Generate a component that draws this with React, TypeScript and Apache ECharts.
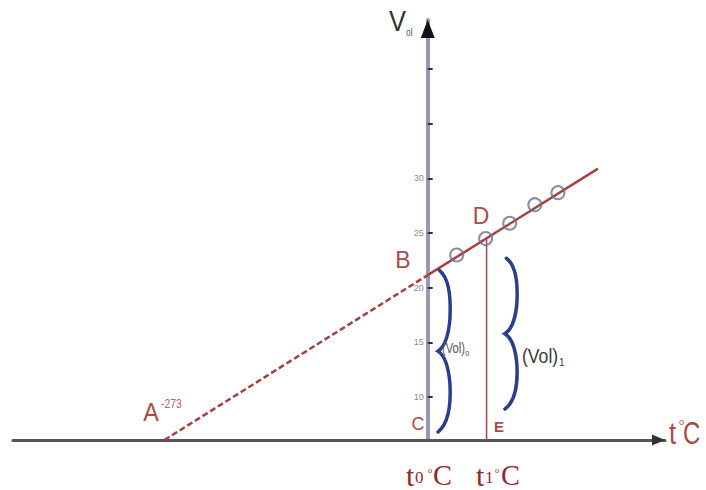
import React, { useEffect, useRef } from "react";
import * as echarts from "echarts";

// axis extents (temperature in °C, volume in arbitrary units)
const X_MIN = -430;
const X_MAX = 246;
const Y_MIN = 6.07;
const Y_MAX = 44.5;

// Charles's law line
const absZeroT = -273;
const absZeroV = 6.07;
const bT = 0;
const bV = 21.16;
const endT = 176.5;
const endV = 30.9;

// measured points (circles)
const measuredT = [30, 60, 85, 111, 135];
const measuredV = [23.0, 24.5, 25.9, 27.6, 28.7];

// t1 drop line
const t1 = 61;
const dVol = 24.5;

// y ticks
const yTickValues = [10, 15, 20, 25, 30, 35, 40];
const yLabelValues = [10, 15, 20, 25, 30];

// braces: [xLeft, xRight, yTop, yBottom]
const braceLeft = [10.6, 80];
const braceRight = [25.2, 94.6];
const braceTop = [21.6, 22.7];
const braceBottom = [6.8, 8.9];

const RED = "#a8403e";
const TXT_RED = "#ad4a48";

const GRID_LEFT = 13;
const GRID_RIGHT = 41;
const CHART_W = 706;

export default function App() {
  const ref = useRef<HTMLDivElement>(null);
  useEffect(() => {
    if (!ref.current) return;
    const chart = echarts.init(ref.current, null, { renderer: "svg" });

    const txt = (
      x: number,
      y: number,
      text: string,
      font: string,
      fill: string,
      opts: any = {}
    ) => ({
      type: "text",
      x,
      y,
      scaleX: opts.scaleX ?? 1,
      z: 100,
      style: {
        text,
        font,
        fill,
        textAlign: opts.align ?? "left",
        textVerticalAlign: "middle",
      },
    });

    const sans = "'Liberation Sans', Arial, sans-serif";
    const serif = "'Liberation Serif', 'Times New Roman', serif";

    // place the y axis at t = 0 using the x axis scale
    const plotW = CHART_W - GRID_LEFT - GRID_RIGHT;
    const zeroOffset = ((0 - X_MIN) / (X_MAX - X_MIN)) * plotW;

    const option: any = {
      animation: false,
      backgroundColor: "#ffffff",
      grid: { left: GRID_LEFT, right: GRID_RIGHT, top: 20, bottom: 50 },
      xAxis: {
        type: "value",
        min: X_MIN,
        max: X_MAX,
        axisLine: { onZero: false, lineStyle: { color: "#555555", width: 3 } },
        axisTick: { show: false },
        axisLabel: { show: false },
        splitLine: { show: false },
      },
      yAxis: {
        type: "value",
        min: Y_MIN,
        max: Y_MAX,
        position: "left",
        offset: -zeroOffset,
        axisLine: { show: true, onZero: false, lineStyle: { color: "#9898b2", width: 4 } },
        axisTick: {
          show: true,
          inside: true,
          length: 5,
          customValues: yTickValues,
          lineStyle: { color: "#2e2e66", width: 2 },
        },
        axisLabel: {
          show: true,
          customValues: yLabelValues,
          fontSize: 9,
          color: "#8a8a8a",
          margin: 4,
          fontFamily: sans,
        },
        splitLine: { show: false },
      },
      series: [
        {
          type: "line",
          data: [
            [absZeroT, absZeroV],
            [bT, bV],
          ],
          symbol: "none",
          lineStyle: { color: RED, width: 2.5, type: [6, 3] },
          z: 3,
        },
        {
          type: "line",
          data: [
            [bT, bV],
            [endT, endV],
          ],
          symbol: "none",
          lineStyle: { color: RED, width: 2.5 },
          z: 3,
        },
        {
          type: "line",
          data: [
            [t1, Y_MIN],
            [t1, dVol],
          ],
          symbol: "none",
          lineStyle: { color: RED, width: 1.5 },
          z: 3,
        },
        {
          type: "scatter",
          data: measuredT.map((t, i) => [t, measuredV[i]]),
          symbol: "circle",
          symbolSize: 13,
          itemStyle: { color: "rgba(0,0,0,0)", borderColor: "#6c7090", borderWidth: 2 },
          z: 4,
        },
        {
          type: "custom",
          clip: false,
          z: 5,
          data: braceLeft.map((l, i) => [l, braceRight[i], braceTop[i], braceBottom[i]]),
          renderItem: (params: any, api: any) => {
            const a = api.coord([api.value(0), api.value(2)]);
            const b = api.coord([api.value(1), api.value(3)]);
            const x0 = a[0];
            const yt = a[1];
            const w = b[0] - a[0];
            const h = b[1] - a[1];
            const p = (fx: number, fy: number) => `${x0 + fx * w},${yt + fy * h}`;
            const d =
              `M${p(0.1, 0)} Q${p(1, 0.06)} ${p(0.85, 0.3)} Q${p(0.7, 0.46)} ${p(0, 0.5)} ` +
              `Q${p(0.7, 0.54)} ${p(0.85, 0.7)} Q${p(1, 0.93)} ${p(0, 1)}`;
            return {
              type: "path",
              shape: { pathData: d },
              style: { stroke: "#2b3e8e", lineWidth: 3.5, fill: "none", lineCap: "round" },
            };
          },
        },
        {
          type: "custom",
          clip: false,
          z: 6,
          data: [
            [X_MAX, Y_MIN, 0],
            [0, Y_MAX, 1],
          ],
          renderItem: (params: any, api: any) => {
            const tip = api.coord([api.value(0), api.value(1)]);
            const dir = api.value(2);
            const pts =
              dir === 0
                ? [tip, [tip[0] - 13, tip[1] - 5.5], [tip[0] - 13, tip[1] + 5.5]]
                : [tip, [tip[0] - 7, tip[1] + 18], [tip[0] + 7, tip[1] + 18]];
            return {
              type: "polygon",
              shape: { points: pts },
              style: { fill: dir === 0 ? "#333333" : "#111111" },
            };
          },
        },
      ],
      graphic: [
        // V_ol
        txt(389, 21, "V", `30px ${sans}`, "#333333", { scaleX: 0.85 }),
        txt(406, 33, "ol", `10px ${sans}`, "#555555", { scaleX: 0.85 }),
        // points
        txt(403, 260, "B", `23px ${sans}`, TXT_RED, { align: "center" }),
        txt(481, 216, "D", `23px ${sans}`, TXT_RED, { align: "center" }),
        txt(418, 424, "C", `18px ${sans}`, TXT_RED, { align: "center" }),
        txt(499, 426, "E", `bold 15px ${sans}`, TXT_RED, { align: "center" }),
        txt(151, 412, "A", `26px ${sans}`, TXT_RED, { align: "center", scaleX: 0.9 }),
        txt(161, 403, "-273", `13px ${sans}`, "#b06262", { scaleX: 0.8 }),
        // t°C axis title
        txt(669, 433, "t", `32px ${sans}`, TXT_RED, { scaleX: 0.8 }),
        txt(679, 422, "o", `9px ${sans}`, TXT_RED),
        txt(683, 433, "C", `32px ${sans}`, TXT_RED, { scaleX: 0.75 }),
        // t0°C
        txt(406, 475, "t", `30px ${serif}`, "#8c2c2c"),
        txt(415, 477, "0", `17px ${serif}`, "#8c2c2c"),
        txt(428, 470, "o", `8px ${serif}`, "#8c2c2c"),
        txt(433, 475, "C", `30px ${serif}`, "#8c2c2c", { scaleX: 0.95 }),
        // t1°C
        txt(476, 475, "t", `30px ${serif}`, "#8c2c2c"),
        txt(485, 477, "1", `17px ${serif}`, "#8c2c2c"),
        txt(495, 470, "o", `8px ${serif}`, "#8c2c2c"),
        txt(501, 475, "C", `30px ${serif}`, "#8c2c2c", { scaleX: 0.95 }),
        // (Vol)0 and (Vol)1
        txt(442, 349, "(Vol)", `14px ${sans}`, "#555555", { scaleX: 0.8 }),
        txt(465, 353, "0", `8px ${sans}`, "#555555"),
        txt(522, 356, "(Vol)", `20px ${sans}`, "#3a3a3a", { scaleX: 0.88 }),
        txt(559, 362, "1", `10px ${sans}`, "#3a3a3a"),
      ],
    };
    chart.setOption(option);
    return () => chart.dispose();
  }, []);
  return (
    <div
      ref={ref}
      style={{ position: "fixed", left: 0, top: 0, width: 706, height: 490, background: "#fff" }}
    />
  );
}
